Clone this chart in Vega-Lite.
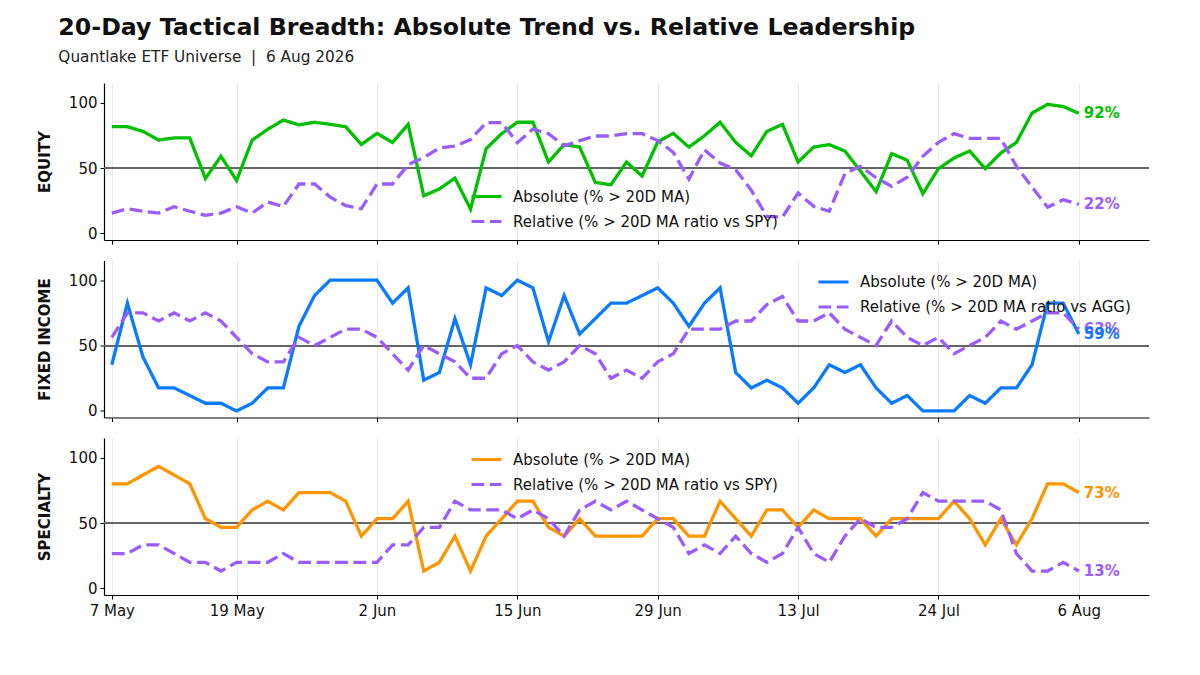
{
  "$schema": "https://vega.github.io/schema/vega-lite/v6.json",
  "background": "white",
  "padding": {"left": 37, "top": 16, "right": 10, "bottom": 10},
  "title": {
    "text": "20-Day Tactical Breadth: Absolute Trend vs. Relative Leadership",
    "subtitle": "Quantlake ETF Universe\u00a0\u00a0|\u00a0\u00a06 Aug 2026",
    "anchor": "start",
    "dx": 21,
    "font": "DejaVu Sans",
    "fontSize": 23.7,
    "fontWeight": "bold",
    "color": "#111111",
    "subtitleFont": "DejaVu Sans",
    "subtitleFontSize": 15.3,
    "subtitleColor": "#222222",
    "subtitlePadding": 10,
    "offset": 18
  },
  "datasets": {
    "breadth": [
      {"t": 0, "date": "2026-05-07", "eq_abs": 81.6, "eq_rel": 15.6, "fi_abs": 35.3, "fi_rel": 56.25, "sp_abs": 80, "sp_rel": 26.7},
      {"t": 1, "date": "2026-05-08", "eq_abs": 81.6, "eq_rel": 18.9, "fi_abs": 82.4, "fi_rel": 75, "sp_abs": 80, "sp_rel": 26.7},
      {"t": 2, "date": "2026-05-11", "eq_abs": 78, "eq_rel": 17, "fi_abs": 41.2, "fi_rel": 75, "sp_abs": 86.7, "sp_rel": 33.3},
      {"t": 3, "date": "2026-05-12", "eq_abs": 71.4, "eq_rel": 15.6, "fi_abs": 17.6, "fi_rel": 68.75, "sp_abs": 93.3, "sp_rel": 33.3},
      {"t": 4, "date": "2026-05-13", "eq_abs": 73, "eq_rel": 20.4, "fi_abs": 17.6, "fi_rel": 75, "sp_abs": 86.7, "sp_rel": 26.7},
      {"t": 5, "date": "2026-05-14", "eq_abs": 73, "eq_rel": 17, "fi_abs": 11.8, "fi_rel": 68.75, "sp_abs": 80, "sp_rel": 20},
      {"t": 6, "date": "2026-05-15", "eq_abs": 42, "eq_rel": 13.8, "fi_abs": 5.9, "fi_rel": 75, "sp_abs": 53.3, "sp_rel": 20},
      {"t": 7, "date": "2026-05-18", "eq_abs": 59, "eq_rel": 15.6, "fi_abs": 5.9, "fi_rel": 68.75, "sp_abs": 46.7, "sp_rel": 13.3},
      {"t": 8, "date": "2026-05-19", "eq_abs": 40.5, "eq_rel": 20.4, "fi_abs": 0, "fi_rel": 56.25, "sp_abs": 46.7, "sp_rel": 20},
      {"t": 9, "date": "2026-05-20", "eq_abs": 71.4, "eq_rel": 15.6, "fi_abs": 5.9, "fi_rel": 43.75, "sp_abs": 60, "sp_rel": 20},
      {"t": 10, "date": "2026-05-21", "eq_abs": 79.6, "eq_rel": 24, "fi_abs": 17.6, "fi_rel": 37.5, "sp_abs": 66.7, "sp_rel": 20},
      {"t": 11, "date": "2026-05-22", "eq_abs": 86.7, "eq_rel": 20.7, "fi_abs": 17.6, "fi_rel": 37.5, "sp_abs": 60, "sp_rel": 26.7},
      {"t": 12, "date": "2026-05-26", "eq_abs": 83, "eq_rel": 37.8, "fi_abs": 64.7, "fi_rel": 56.25, "sp_abs": 73.3, "sp_rel": 20},
      {"t": 13, "date": "2026-05-27", "eq_abs": 85, "eq_rel": 37.8, "fi_abs": 88.2, "fi_rel": 50, "sp_abs": 73.3, "sp_rel": 20},
      {"t": 14, "date": "2026-05-28", "eq_abs": 83.4, "eq_rel": 27.8, "fi_abs": 100, "fi_rel": 56.25, "sp_abs": 73.3, "sp_rel": 20},
      {"t": 15, "date": "2026-05-29", "eq_abs": 81.6, "eq_rel": 21.2, "fi_abs": 100, "fi_rel": 62.5, "sp_abs": 66.7, "sp_rel": 20},
      {"t": 16, "date": "2026-06-01", "eq_abs": 68, "eq_rel": 18.9, "fi_abs": 100, "fi_rel": 62.5, "sp_abs": 40, "sp_rel": 20},
      {"t": 17, "date": "2026-06-02", "eq_abs": 76.5, "eq_rel": 37.8, "fi_abs": 100, "fi_rel": 56.25, "sp_abs": 53.3, "sp_rel": 20},
      {"t": 18, "date": "2026-06-03", "eq_abs": 69.6, "eq_rel": 37.8, "fi_abs": 82.4, "fi_rel": 43.75, "sp_abs": 53.3, "sp_rel": 33.3},
      {"t": 19, "date": "2026-06-04", "eq_abs": 83.4, "eq_rel": 52.6, "fi_abs": 94.1, "fi_rel": 31.25, "sp_abs": 66.7, "sp_rel": 33.3},
      {"t": 20, "date": "2026-06-05", "eq_abs": 28.8, "eq_rel": 58, "fi_abs": 23.5, "fi_rel": 50, "sp_abs": 13.3, "sp_rel": 46.7},
      {"t": 21, "date": "2026-06-08", "eq_abs": 34, "eq_rel": 65.3, "fi_abs": 29.4, "fi_rel": 43.75, "sp_abs": 20, "sp_rel": 46.7},
      {"t": 22, "date": "2026-06-09", "eq_abs": 42.3, "eq_rel": 66.8, "fi_abs": 70.6, "fi_rel": 37.5, "sp_abs": 40, "sp_rel": 66.7},
      {"t": 23, "date": "2026-06-10", "eq_abs": 18.6, "eq_rel": 71.7, "fi_abs": 35.3, "fi_rel": 25, "sp_abs": 13.3, "sp_rel": 60},
      {"t": 24, "date": "2026-06-11", "eq_abs": 64.8, "eq_rel": 84.7, "fi_abs": 94.1, "fi_rel": 25, "sp_abs": 40, "sp_rel": 60},
      {"t": 25, "date": "2026-06-12", "eq_abs": 76.3, "eq_rel": 84.7, "fi_abs": 88.2, "fi_rel": 43.75, "sp_abs": 53.3, "sp_rel": 60},
      {"t": 26, "date": "2026-06-15", "eq_abs": 85, "eq_rel": 69.4, "fi_abs": 100, "fi_rel": 50, "sp_abs": 66.7, "sp_rel": 53.3},
      {"t": 27, "date": "2026-06-16", "eq_abs": 85, "eq_rel": 79.8, "fi_abs": 94.1, "fi_rel": 37.5, "sp_abs": 66.7, "sp_rel": 60},
      {"t": 28, "date": "2026-06-17", "eq_abs": 54.6, "eq_rel": 76.3, "fi_abs": 52.9, "fi_rel": 31.25, "sp_abs": 46.7, "sp_rel": 53.3},
      {"t": 29, "date": "2026-06-18", "eq_abs": 67.9, "eq_rel": 67, "fi_abs": 88.2, "fi_rel": 37.5, "sp_abs": 40, "sp_rel": 40},
      {"t": 30, "date": "2026-06-22", "eq_abs": 66, "eq_rel": 71, "fi_abs": 58.8, "fi_rel": 50, "sp_abs": 53.3, "sp_rel": 60},
      {"t": 31, "date": "2026-06-23", "eq_abs": 39, "eq_rel": 74.5, "fi_abs": 70.6, "fi_rel": 43.75, "sp_abs": 40, "sp_rel": 66.7},
      {"t": 32, "date": "2026-06-24", "eq_abs": 37.2, "eq_rel": 74.5, "fi_abs": 82.4, "fi_rel": 25, "sp_abs": 40, "sp_rel": 60},
      {"t": 33, "date": "2026-06-25", "eq_abs": 54.6, "eq_rel": 76.3, "fi_abs": 82.4, "fi_rel": 31.25, "sp_abs": 40, "sp_rel": 66.7},
      {"t": 34, "date": "2026-06-26", "eq_abs": 43.9, "eq_rel": 76.3, "fi_abs": 88.2, "fi_rel": 25, "sp_abs": 40, "sp_rel": 60},
      {"t": 35, "date": "2026-06-29", "eq_abs": 70, "eq_rel": 71, "fi_abs": 94.1, "fi_rel": 37.5, "sp_abs": 53.3, "sp_rel": 53.3},
      {"t": 36, "date": "2026-06-30", "eq_abs": 76.5, "eq_rel": 62, "fi_abs": 82.4, "fi_rel": 43.75, "sp_abs": 53.3, "sp_rel": 46.7},
      {"t": 37, "date": "2026-07-01", "eq_abs": 66, "eq_rel": 41.6, "fi_abs": 64.7, "fi_rel": 62.5, "sp_abs": 40, "sp_rel": 26.7},
      {"t": 38, "date": "2026-07-02", "eq_abs": 74.7, "eq_rel": 64, "fi_abs": 82.4, "fi_rel": 62.5, "sp_abs": 40, "sp_rel": 33.3},
      {"t": 39, "date": "2026-07-06", "eq_abs": 85, "eq_rel": 53.8, "fi_abs": 94.1, "fi_rel": 62.5, "sp_abs": 66.7, "sp_rel": 26.7},
      {"t": 40, "date": "2026-07-07", "eq_abs": 69.6, "eq_rel": 48.7, "fi_abs": 29.4, "fi_rel": 68.75, "sp_abs": 53.3, "sp_rel": 40},
      {"t": 41, "date": "2026-07-08", "eq_abs": 59.4, "eq_rel": 33, "fi_abs": 17.6, "fi_rel": 68.75, "sp_abs": 40, "sp_rel": 26.7},
      {"t": 42, "date": "2026-07-09", "eq_abs": 78, "eq_rel": 13, "fi_abs": 23.5, "fi_rel": 81.25, "sp_abs": 60, "sp_rel": 20},
      {"t": 43, "date": "2026-07-10", "eq_abs": 83.4, "eq_rel": 12.5, "fi_abs": 17.6, "fi_rel": 87.5, "sp_abs": 60, "sp_rel": 26.7},
      {"t": 44, "date": "2026-07-13", "eq_abs": 54.6, "eq_rel": 30.9, "fi_abs": 5.9, "fi_rel": 68.75, "sp_abs": 46.7, "sp_rel": 46.7},
      {"t": 45, "date": "2026-07-14", "eq_abs": 66, "eq_rel": 20.7, "fi_abs": 17.6, "fi_rel": 68.75, "sp_abs": 60, "sp_rel": 26.7},
      {"t": 46, "date": "2026-07-15", "eq_abs": 67.9, "eq_rel": 17, "fi_abs": 35.3, "fi_rel": 75, "sp_abs": 53.3, "sp_rel": 20},
      {"t": 47, "date": "2026-07-16", "eq_abs": 63, "eq_rel": 45.7, "fi_abs": 29.4, "fi_rel": 62.5, "sp_abs": 53.3, "sp_rel": 40},
      {"t": 48, "date": "2026-07-17", "eq_abs": 47.7, "eq_rel": 51.3, "fi_abs": 35.3, "fi_rel": 56.25, "sp_abs": 53.3, "sp_rel": 53.3},
      {"t": 49, "date": "2026-07-20", "eq_abs": 32, "eq_rel": 42.6, "fi_abs": 17.6, "fi_rel": 50, "sp_abs": 40, "sp_rel": 46.7},
      {"t": 50, "date": "2026-07-21", "eq_abs": 61, "eq_rel": 36, "fi_abs": 5.9, "fi_rel": 68.75, "sp_abs": 53.3, "sp_rel": 46.7},
      {"t": 51, "date": "2026-07-22", "eq_abs": 56, "eq_rel": 43, "fi_abs": 11.8, "fi_rel": 56.25, "sp_abs": 53.3, "sp_rel": 53.3},
      {"t": 52, "date": "2026-07-23", "eq_abs": 30.4, "eq_rel": 59, "fi_abs": 0, "fi_rel": 50, "sp_abs": 53.3, "sp_rel": 73.3},
      {"t": 53, "date": "2026-07-24", "eq_abs": 49.5, "eq_rel": 69.6, "fi_abs": 0, "fi_rel": 56.25, "sp_abs": 53.3, "sp_rel": 66.7},
      {"t": 54, "date": "2026-07-27", "eq_abs": 57.7, "eq_rel": 76.3, "fi_abs": 0, "fi_rel": 43.75, "sp_abs": 66.7, "sp_rel": 66.7},
      {"t": 55, "date": "2026-07-28", "eq_abs": 63, "eq_rel": 72.7, "fi_abs": 11.8, "fi_rel": 50, "sp_abs": 53.3, "sp_rel": 66.7},
      {"t": 56, "date": "2026-07-29", "eq_abs": 49.5, "eq_rel": 72.7, "fi_abs": 5.9, "fi_rel": 56.25, "sp_abs": 33.3, "sp_rel": 66.7},
      {"t": 57, "date": "2026-07-30", "eq_abs": 61.5, "eq_rel": 72.7, "fi_abs": 17.6, "fi_rel": 68.75, "sp_abs": 53.3, "sp_rel": 60},
      {"t": 58, "date": "2026-07-31", "eq_abs": 69.6, "eq_rel": 51.3, "fi_abs": 17.6, "fi_rel": 62.5, "sp_abs": 33.3, "sp_rel": 26.7},
      {"t": 59, "date": "2026-08-03", "eq_abs": 92, "eq_rel": 35.5, "fi_abs": 35.3, "fi_rel": 68.75, "sp_abs": 53.3, "sp_rel": 13.3},
      {"t": 60, "date": "2026-08-04", "eq_abs": 98.7, "eq_rel": 20, "fi_abs": 82.4, "fi_rel": 75, "sp_abs": 80, "sp_rel": 13.3},
      {"t": 61, "date": "2026-08-05", "eq_abs": 97, "eq_rel": 25.8, "fi_abs": 82.4, "fi_rel": 75, "sp_abs": 80, "sp_rel": 20},
      {"t": 62, "date": "2026-08-06", "eq_abs": 91.8, "eq_rel": 22.2, "fi_abs": 58.8, "fi_rel": 62.5, "sp_abs": 73.3, "sp_rel": 13.3}
    ]
  },
  "data": {"name": "breadth"},
  "spacing": 15.5,
  "vconcat": [
    {
      "width": 1045,
      "height": 157,
      "transform": [{"fold": ["eq_abs", "eq_rel"], "as": ["series", "value"]}],
      "layer": [
        {
          "mark": {"type": "rule", "color": "#666666", "strokeWidth": 1.2},
          "encoding": {"y": {"datum": 50, "type": "quantitative"}}
        },
        {
          "mark": {"type": "line", "strokeWidth": 3.3},
          "encoding": {
            "x": {"field": "t", "type": "quantitative", "scale": {"domain": [-0.5, 66.5], "nice": false, "zero": false},
                  "axis": {"values": [0, 8, 17, 26, 35, 44, 53, 62], "labels": false, "title": null}},
            "y": {"field": "value", "type": "quantitative", "scale": {"domain": [-5, 115], "nice": false, "zero": false},
                  "axis": {"values": [0, 50, 100], "title": "EQUITY"}},
            "color": {"field": "series", "type": "nominal", "scale": {"domain": ["eq_abs", "eq_rel"], "range": ["#00c000", "#9b5cff"]},
                      "legend": {"title": null, "orient": "none", "legendX": 366, "legendY": 97, "symbolType": "stroke",
                                 "labelExpr": "datum.label == 'eq_abs' ? 'Absolute (% > 20D MA)' : 'Relative (% > 20D MA ratio vs SPY)'"}},
            "strokeDash": {"field": "series", "type": "nominal", "scale": {"domain": ["eq_abs", "eq_rel"], "range": [[1, 0], [12.8, 5.6]]},
                      "legend": {"title": null, "orient": "none", "legendX": 366, "legendY": 97, "symbolType": "stroke",
                                 "labelExpr": "datum.label == 'eq_abs' ? 'Absolute (% > 20D MA)' : 'Relative (% > 20D MA ratio vs SPY)'"}}
          }
        },
        {
          "transform": [{"filter": "datum.t == 62"}],
          "mark": {"type": "text", "align": "left", "baseline": "middle", "dx": 5, "fontSize": 15, "fontWeight": "bold"},
          "encoding": {
            "x": {"field": "t", "type": "quantitative"},
            "y": {"field": "value", "type": "quantitative"},
            "text": {"field": "value", "type": "quantitative", "format": "$.0f"},
            "color": {"field": "series", "type": "nominal"},
            "order": {"field": "series", "sort": "descending"}
          }
        }
      ]
    },
    {
      "width": 1045,
      "height": 157,
      "transform": [{"fold": ["fi_abs", "fi_rel"], "as": ["series", "value"]}],
      "layer": [
        {
          "mark": {"type": "rule", "color": "#666666", "strokeWidth": 1.2},
          "encoding": {"y": {"datum": 50, "type": "quantitative"}}
        },
        {
          "mark": {"type": "line", "strokeWidth": 3.3},
          "encoding": {
            "x": {"field": "t", "type": "quantitative", "scale": {"domain": [-0.5, 66.5], "nice": false, "zero": false},
                  "axis": {"values": [0, 8, 17, 26, 35, 44, 53, 62], "labels": false, "title": null}},
            "y": {"field": "value", "type": "quantitative", "scale": {"domain": [-5, 115], "nice": false, "zero": false},
                  "axis": {"values": [0, 50, 100], "title": "FIXED INCOME"}},
            "color": {"field": "series", "type": "nominal", "scale": {"domain": ["fi_abs", "fi_rel"], "range": ["#0a7bff", "#9b5cff"]},
                      "legend": {"title": null, "orient": "none", "legendX": 713, "legendY": 5, "symbolType": "stroke",
                                 "labelExpr": "datum.label == 'fi_abs' ? 'Absolute (% > 20D MA)' : 'Relative (% > 20D MA ratio vs AGG)'"}},
            "strokeDash": {"field": "series", "type": "nominal", "scale": {"domain": ["fi_abs", "fi_rel"], "range": [[1, 0], [12.8, 5.6]]},
                      "legend": {"title": null, "orient": "none", "legendX": 713, "legendY": 5, "symbolType": "stroke",
                                 "labelExpr": "datum.label == 'fi_abs' ? 'Absolute (% > 20D MA)' : 'Relative (% > 20D MA ratio vs AGG)'"}}
          }
        },
        {
          "transform": [{"filter": "datum.t == 62"}],
          "mark": {"type": "text", "align": "left", "baseline": "middle", "dx": 5, "fontSize": 15, "fontWeight": "bold"},
          "encoding": {
            "x": {"field": "t", "type": "quantitative"},
            "y": {"field": "value", "type": "quantitative"},
            "text": {"field": "value", "type": "quantitative", "format": "$.0f"},
            "color": {"field": "series", "type": "nominal"},
            "order": {"field": "series", "sort": "descending"}
          }
        }
      ]
    },
    {
      "width": 1045,
      "height": 157,
      "transform": [{"fold": ["sp_abs", "sp_rel"], "as": ["series", "value"]}],
      "layer": [
        {
          "mark": {"type": "rule", "color": "#666666", "strokeWidth": 1.2},
          "encoding": {"y": {"datum": 50, "type": "quantitative"}}
        },
        {
          "mark": {"type": "line", "strokeWidth": 3.3},
          "encoding": {
            "x": {"field": "t", "type": "quantitative", "scale": {"domain": [-0.5, 66.5], "nice": false, "zero": false},
                  "axis": {"values": [0, 8, 17, 26, 35, 44, 53, 62], "title": null,
                           "labelExpr": "['7 May', '19 May', '2 Jun', '15 Jun', '29 Jun', '13 Jul', '24 Jul', '6 Aug'][indexof([0, 8, 17, 26, 35, 44, 53, 62], datum.value)]"}},
            "y": {"field": "value", "type": "quantitative", "scale": {"domain": [-5, 115], "nice": false, "zero": false},
                  "axis": {"values": [0, 50, 100], "title": "SPECIALTY"}},
            "color": {"field": "series", "type": "nominal", "scale": {"domain": ["sp_abs", "sp_rel"], "range": ["#ff9500", "#9b5cff"]},
                      "legend": {"title": null, "orient": "none", "legendX": 366, "legendY": 5, "symbolType": "stroke",
                                 "labelExpr": "datum.label == 'sp_abs' ? 'Absolute (% > 20D MA)' : 'Relative (% > 20D MA ratio vs SPY)'"}},
            "strokeDash": {"field": "series", "type": "nominal", "scale": {"domain": ["sp_abs", "sp_rel"], "range": [[1, 0], [12.8, 5.6]]},
                      "legend": {"title": null, "orient": "none", "legendX": 366, "legendY": 5, "symbolType": "stroke",
                                 "labelExpr": "datum.label == 'sp_abs' ? 'Absolute (% > 20D MA)' : 'Relative (% > 20D MA ratio vs SPY)'"}}
          }
        },
        {
          "transform": [{"filter": "datum.t == 62"}],
          "mark": {"type": "text", "align": "left", "baseline": "middle", "dx": 5, "fontSize": 15, "fontWeight": "bold"},
          "encoding": {
            "x": {"field": "t", "type": "quantitative"},
            "y": {"field": "value", "type": "quantitative"},
            "text": {"field": "value", "type": "quantitative", "format": "$.0f"},
            "color": {"field": "series", "type": "nominal"},
            "order": {"field": "series", "sort": "descending"}
          }
        }
      ]
    }
  ],
  "resolve": {"scale": {"color": "independent", "strokeDash": "independent", "y": "independent", "x": "independent"}},
  "config": {
    "font": "DejaVu Sans",
    "view": {"stroke": null},
    "locale": {"number": {"decimal": ".", "thousands": ",", "grouping": [3], "currency": ["", "%"]}},
    "axis": {
      "domainColor": "#000000",
      "domainWidth": 1.2,
      "tickColor": "#000000",
      "tickSize": 4,
      "tickWidth": 1,
      "labelFont": "DejaVu Sans",
      "labelFontSize": 15,
      "labelColor": "#111111",
      "gridColor": "#e6e6e6",
      "gridWidth": 0.9,
      "titleFont": "DejaVu Sans",
      "titleFontSize": 15,
      "titleFontWeight": "bold",
      "titleColor": "#111111"
    },
    "axisY": {"labelPadding": 3, "titlePadding": 16},
    "axisX": {"labelPadding": 4},
    "legend": {
      "padding": 0,
      "symbolSize": 900,
      "symbolStrokeWidth": 3,
      "labelFont": "DejaVu Sans",
      "labelFontSize": 15,
      "labelColor": "#111111",
      "labelOffset": 10,
      "labelLimit": 0,
      "rowPadding": -9
    }
  }
}
